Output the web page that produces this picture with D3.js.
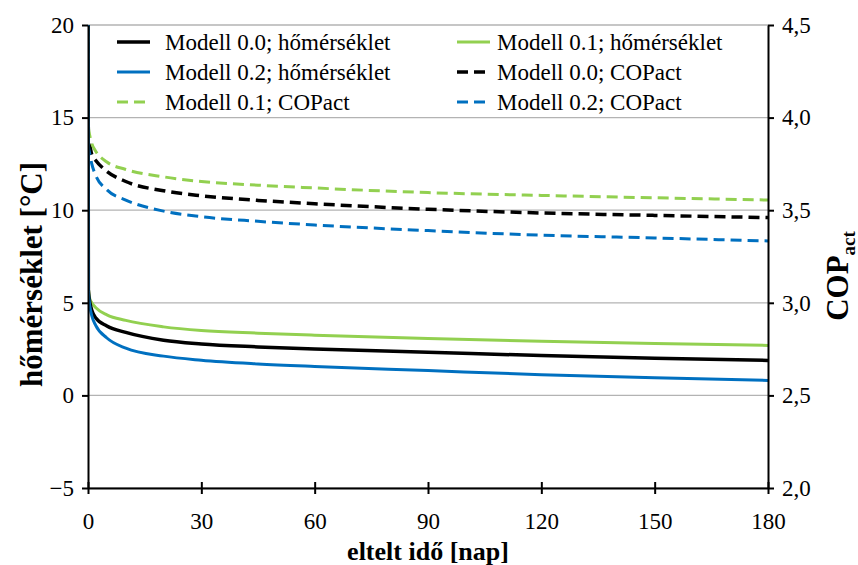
<!DOCTYPE html>
<html>
<head>
<meta charset="utf-8">
<script src="https://cdn.jsdelivr.net/npm/d3@7"></script>
<style>
  body { margin: 0; background: #fff; }
  svg { display: block; }
  svg text { font-family: "Liberation Serif", "Times New Roman", Times, "DejaVu Serif", serif; }
</style>
</head>
<body>
<svg id="chart" width="858" height="565"></svg>
<script>
// ---- data ----
const days = [0, 0.1, 0.5, 1, 2, 5, 10, 20, 30, 45, 60, 90, 120, 150, 180];
const temp00 = [20, 5.7, 5.0, 4.6, 4.2, 3.75, 3.4, 2.98, 2.78, 2.62, 2.5, 2.33, 2.15, 2.0, 1.89];
const temp01 = [20, 5.8, 5.2, 5.0, 4.75, 4.35, 4.05, 3.7, 3.5, 3.36, 3.25, 3.07, 2.92, 2.8, 2.7];
const temp02 = [20, 5.6, 4.8, 4.3, 3.8, 3.1, 2.55, 2.12, 1.9, 1.7, 1.56, 1.34, 1.12, 0.95, 0.81];
const cop00 = [4.5, 3.9, 3.85, 3.8, 3.77, 3.71, 3.655, 3.605, 3.578, 3.553, 3.535, 3.505, 3.485, 3.472, 3.46];
const cop01 = [4.5, 3.95, 3.9, 3.86, 3.82, 3.76, 3.72, 3.68, 3.655, 3.635, 3.62, 3.595, 3.58, 3.567, 3.555];
const cop02 = [4.5, 3.85, 3.8, 3.75, 3.69, 3.61, 3.555, 3.495, 3.465, 3.44, 3.42, 3.39, 3.365, 3.35, 3.334];
const xTicks = [0, 30, 60, 90, 120, 150, 180];
const yTicks = [-5, 0, 5, 10, 15, 20];
const y2Ticks = [2.0, 2.5, 3.0, 3.5, 4.0, 4.5];
const seriesNames = ["Modell 0.0; hőmérséklet", "Modell 0.1; hőmérséklet", "Modell 0.2; hőmérséklet",
                     "Modell 0.0; COPact", "Modell 0.1; COPact", "Modell 0.2; COPact"];

// ---- layout ----
const svg = d3.select("#chart");
const L = 88, R = 768, T = 25, B = 488;
const x = d3.scaleLinear().domain([0, 180]).range([L, R]);
const y = d3.scaleLinear().domain([-5, 20]).range([B, T]);
const y2 = d3.scaleLinear().domain([2.0, 4.5]).range([B, T]);

const BLACK = "#000000", GREEN = "#92d050", BLUE = "#0070c0";
const FONT = "Liberation Serif, Times New Roman, DejaVu Serif, serif";

// gridlines
svg.append("g").selectAll("line").data(yTicks).join("line")
  .attr("x1", L).attr("x2", R)
  .attr("y1", d => y(d)).attr("y2", d => y(d))
  .attr("stroke", "#b3b3b3").attr("stroke-width", 1.3);

svg.append("clipPath").attr("id", "clip").append("rect")
  .attr("x", L).attr("y", T).attr("width", R - L).attr("height", B - T);

const series = [
  { name: seriesNames[0], vals: temp00, axis: "y", color: BLACK, w: 3.5, dash: null },
  { name: seriesNames[1], vals: temp01, axis: "y", color: GREEN, w: 3, dash: null },
  { name: seriesNames[2], vals: temp02, axis: "y", color: BLUE, w: 3, dash: null },
  { name: seriesNames[3], vals: cop00, axis: "y2", color: BLACK, w: 3.5, dash: "11,6" },
  { name: seriesNames[4], vals: cop01, axis: "y2", color: GREEN, w: 3, dash: "11,6" },
  { name: seriesNames[5], vals: cop02, axis: "y2", color: BLUE, w: 3, dash: "11,6" }
];

const plot = svg.append("g").attr("clip-path", "url(#clip)");
[3, 4, 5, 1, 0, 2].forEach(i => {
  const s = series[i];
  const sc = s.axis === "y" ? y : y2;
  const line = d3.line().x((d, j) => x(days[j])).y(d => sc(d)).curve(d3.curveMonotoneX);
  plot.append("path").datum(s.vals)
    .attr("d", line)
    .attr("fill", "none")
    .attr("stroke", s.color)
    .attr("stroke-width", s.w)
    .attr("stroke-dasharray", s.dash);
});

// axes
const tfs = "23px";
const xAxis = svg.append("g").attr("transform", `translate(0,${B})`)
  .call(d3.axisBottom(x).tickValues(xTicks).tickSize(6).tickSizeOuter(0));
xAxis.selectAll(".tick line").attr("y1", -6).attr("y2", 6);
const yAxis = svg.append("g").attr("transform", `translate(${L},0)`)
  .call(d3.axisLeft(y).tickValues(yTicks).tickSize(6).tickSizeOuter(0));
const y2Axis = svg.append("g").attr("transform", `translate(${R},0)`)
  .call(d3.axisRight(y2).tickValues(y2Ticks).tickSize(6).tickSizeOuter(0)
    .tickFormat(d => d.toFixed(1).replace(".", ",")));

[xAxis, yAxis, y2Axis].forEach(g => {
  g.attr("font-family", FONT);
  g.select(".domain").attr("stroke", "#000").attr("stroke-width", 2);
  g.selectAll(".tick line").attr("stroke", "#000").attr("stroke-width", 2);
  g.selectAll(".tick text").attr("font-size", tfs).attr("fill", "#000");
});
xAxis.selectAll(".tick text").attr("y", 41).attr("dy", 0);
yAxis.selectAll(".tick text").attr("x", -14);
y2Axis.selectAll(".tick text").attr("x", 14);

// axis titles
svg.append("text").attr("x", (L + R) / 2).attr("y", 560)
  .attr("text-anchor", "middle").attr("font-size", "26px").attr("font-weight", "bold")
  .text("eltelt idő [nap]");
svg.append("text")
  .attr("transform", `translate(42,${(T + B) / 2 + 18}) rotate(-90)`)
  .attr("text-anchor", "middle").attr("font-size", "31px").attr("font-weight", "bold")
  .text("hőmérséklet [°C]");
const copT = svg.append("text")
  .attr("transform", `translate(848,276) rotate(-90)`)
  .attr("text-anchor", "middle").attr("font-size", "31px").attr("font-weight", "bold");
copT.append("tspan").text("COP");
copT.append("tspan").attr("font-size", "19px").attr("dy", "7").text("act");

// legend
const legPos = [
  { cx: 117, tx: 165, y: 42 }, { cx: 457, tx: 497, y: 42 },
  { cx: 117, tx: 165, y: 72 }, { cx: 457, tx: 497, y: 72 },
  { cx: 117, tx: 165, y: 102 }, { cx: 457, tx: 497, y: 102 }
];
const leg = svg.append("g");
series.forEach((s, k) => {
  const p = legPos[k];
  leg.append("line").attr("x1", p.cx).attr("x2", p.cx + 33)
    .attr("y1", p.y).attr("y2", p.y)
    .attr("stroke", s.color).attr("stroke-width", s.w)
    .attr("stroke-dasharray", s.dash ? "11,6" : null);
  leg.append("text").attr("x", p.tx).attr("y", p.y).attr("dy", "0.35em")
    .attr("font-size", "23px").text(s.name);
});
</script>
</body>
</html>
